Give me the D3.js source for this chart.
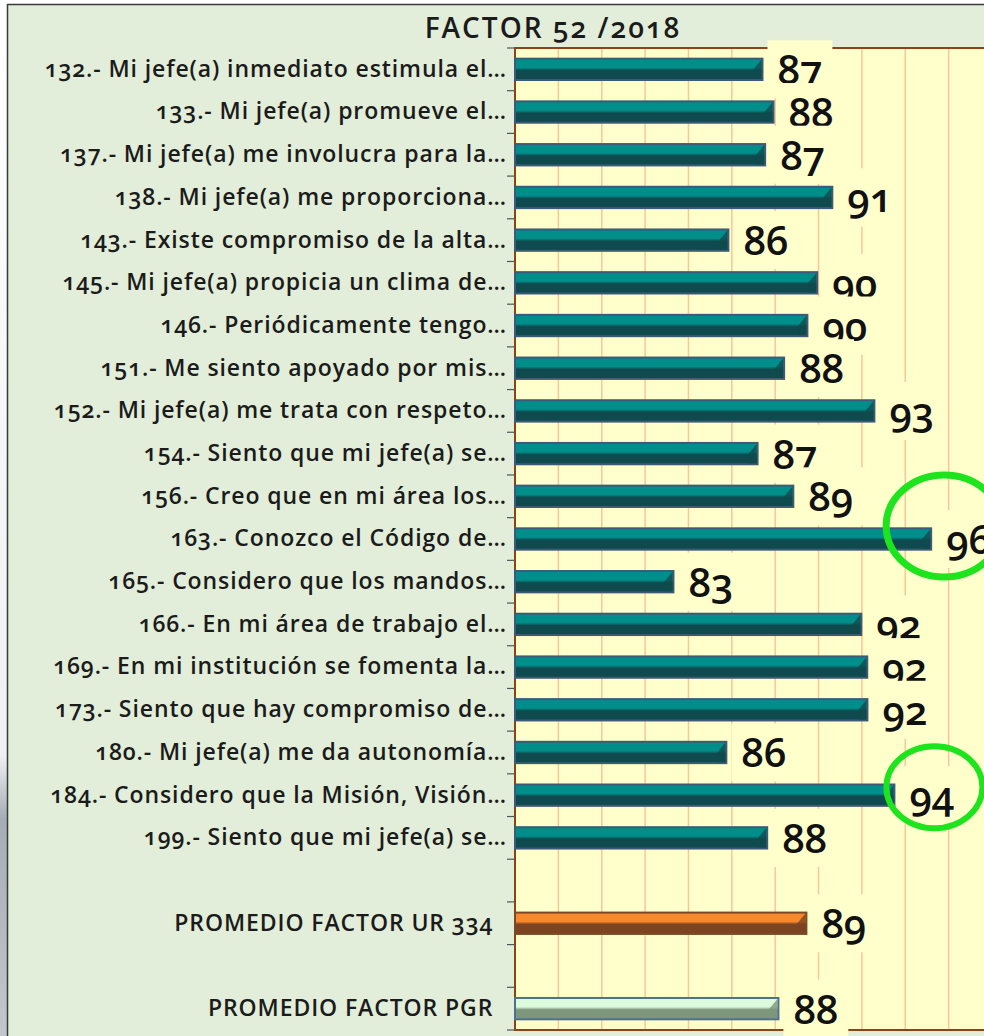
<!DOCTYPE html>
<html>
<head>
<meta charset="utf-8">
<script src="https://cdn.jsdelivr.net/npm/d3@7"></script>
<style>
  body { margin: 0; background: #fff; }
  text { font-family: "Open Sans", "Noto Sans", sans-serif; }
</style>
</head>
<body>
<div id="chart"></div>
<script>
// question labels (blank rows separate the averages)
var categories = [
  "132.- Mi jefe(a) inmediato estimula el…",
  "133.- Mi jefe(a) promueve el…",
  "137.- Mi jefe(a) me involucra para la…",
  "138.- Mi jefe(a) me proporciona…",
  "143.- Existe compromiso de la alta…",
  "145.- Mi jefe(a) propicia un clima de…",
  "146.- Periódicamente tengo…",
  "151.- Me siento apoyado por mis…",
  "152.- Mi jefe(a) me trata con respeto…",
  "154.- Siento que mi jefe(a) se…",
  "156.- Creo que en mi área los…",
  "163.- Conozco el Código de…",
  "165.- Considero que los mandos…",
  "166.- En mi área de trabajo el…",
  "169.- En mi institución se fomenta la…",
  "173.- Siento que hay compromiso de…",
  "180.- Mi jefe(a) me da autonomía…",
  "184.- Considero que la Misión, Visión…",
  "199.- Siento que mi jefe(a) se…",
  "",
  "PROMEDIO FACTOR UR 334  ",
  "",
  "PROMEDIO FACTOR PGR  "
];

// scores (labels show them rounded)
var scores = [87.32, 87.86, 87.45, 90.74, 85.65, 90.0, 89.52, 88.38, 92.8, 87.08,
  88.83, 95.58, 82.96, 92.16, 92.45, 92.46, 85.55, 93.78, 87.55,
  null, 89.47, null, 88.1];

// which series each row belongs to
var kinds = ["q","q","q","q","q","q","q","q","q","q","q","q","q","q","q","q","q","q","q",
  null, "ur", null, "pgr"];

// rows circled in green
var highlighted = [11, 17];

var title = "FACTOR 52 /2018";

var W = 984, H = 1036;
var plot = {left: 515, right: 992, top: 48, bottom: 1030};

var svg = d3.select("#chart").append("svg")
  .attr("width", W)
  .attr("height", H);

var defs = svg.append("defs");

var palette = {
  q:   {light: "#008e8b", dark: "#0f4b4e", edge: "#3d5b78"},
  ur:  {light: "#f7892c", dark: "#7d4421", edge: "#7a4a26"},
  pgr: {light: "#dcfadc", dark: "#7c977c", edge: "#51708e"}
};

Object.keys(palette).forEach(function(k) {
  var p = palette[k];
  var g = defs.append("linearGradient").attr("id", "grad-" + k)
    .attr("x1", 0).attr("y1", 0).attr("x2", 0).attr("y2", 1);
  g.append("stop").attr("offset", "0%").attr("stop-color", p.light);
  g.append("stop").attr("offset", "42%").attr("stop-color", p.light);
  g.append("stop").attr("offset", "55%").attr("stop-color", p.dark);
  g.append("stop").attr("offset", "100%").attr("stop-color", p.dark);
});

var side = defs.append("linearGradient").attr("id", "side")
  .attr("x1", 0).attr("y1", 0).attr("x2", 0).attr("y2", 1);
side.append("stop").attr("offset", "0%").attr("stop-color", "#ffffff");
side.append("stop").attr("offset", "73%").attr("stop-color", "#eef0f2");
side.append("stop").attr("offset", "79%").attr("stop-color", "#a7adb6");
side.append("stop").attr("offset", "100%").attr("stop-color", "#c3c7cd");

// page edge and chart area
svg.append("rect").attr("x", 0).attr("y", 0).attr("width", 7).attr("height", H)
  .attr("fill", "url(#side)");
svg.append("rect").attr("x", 7).attr("y", 4).attr("width", W - 7).attr("height", H - 4)
  .attr("fill", "#e2eed9");
svg.append("path").attr("d", "M7.5," + H + "V4.5H" + W)
  .attr("fill", "none").attr("stroke", "#3a3a3a").attr("stroke-width", 1.5);

// scales
var x = d3.scaleLinear()
  .domain([75.2, 98.56])
  .range([plot.left, plot.right]);

var y = d3.scaleBand()
  .domain(d3.range(categories.length))
  .range([plot.top, plot.bottom])
  .paddingInner(0.5)
  .paddingOuter(0.25);

var grid = d3.scaleLinear().domain([0, 11]).range(x.range());

// plot area
svg.append("rect")
  .attr("x", plot.left).attr("y", plot.top)
  .attr("width", plot.right - plot.left).attr("height", plot.bottom - plot.top)
  .attr("fill", "#ffffcc");

svg.append("g").selectAll("line")
  .data(d3.range(1, 11))
  .enter().append("line")
    .attr("x1", function(d) { return grid(d); })
    .attr("x2", function(d) { return grid(d); })
    .attr("y1", plot.top).attr("y2", plot.bottom)
    .attr("stroke", "#f7c79c").attr("stroke-width", 1.5);

svg.append("path")
  .attr("d", "M" + W + "," + plot.top + "H" + plot.left + "V" + plot.bottom + "H" + W)
  .attr("fill", "none").attr("stroke", "#8e4313").attr("stroke-width", 2);

// category axis
var yAxis = d3.axisLeft(y)
  .tickSize(0)
  .tickPadding(8)
  .tickFormat(function(i) { return categories[i]; });

var ax = svg.append("g")
  .attr("transform", "translate(" + plot.left + ",0)")
  .call(yAxis);
ax.select(".domain").remove();
ax.selectAll("text")
  .attr("font-size", 23)
  .attr("font-weight", 600)
  .attr("fill", "#1b1b1b")
  .attr("letter-spacing", 0.9)
  .style("white-space", "pre")
  .style("font-variant-numeric", "oldstyle-nums")
  .style("font-family", "'Open Sans', sans-serif");

// small ticks between categories
svg.append("g").selectAll("line")
  .data(d3.range(categories.length + 1))
  .enter().append("line")
    .attr("x1", plot.left - 8).attr("x2", plot.left)
    .attr("y1", function(i) { return y.range()[0] + y.step() * i; })
    .attr("y2", function(i) { return y.range()[0] + y.step() * i; })
    .attr("stroke", "#555").attr("stroke-width", 1.2);

// bars
var rows = d3.range(categories.length).filter(function(i) { return scores[i] != null; });
var bh = y.bandwidth();

var bars = svg.append("g").selectAll("g")
  .data(rows)
  .enter().append("g");

bars.append("rect")
  .attr("x", x.range()[0])
  .attr("y", function(i) { return y(i); })
  .attr("width", function(i) { return x(scores[i]) - x.range()[0]; })
  .attr("height", bh)
  .attr("fill", function(i) { return "url(#grad-" + kinds[i] + ")"; })
  .attr("stroke", function(i) { return palette[kinds[i]].edge; })
  .attr("stroke-width", 2);

// bevel at the end of each bar
bars.append("path")
  .attr("d", function(i) {
    var x1 = x(scores[i]) - 1, y0 = y(i) + 1, y1 = y(i) + bh - 1;
    return "M" + (x1 - 8) + "," + (y0 + bh * 0.45) + "L" + x1 + "," + y0 +
      "V" + y1 + "H" + (x1 - 8) + "Z";
  })
  .attr("fill", function(i) { return palette[kinds[i]].dark; })
  .attr("opacity", 0.8);

// value labels with their own background boxes
var fmt = d3.format(".0f");
var labels = svg.append("g").selectAll("g")
  .data(rows)
  .enter().append("g");

labels.append("rect").attr("fill", "#ffffcc");
labels.append("text")
  .attr("x", function(i) { return x(scores[i]) + 15; })
  .attr("y", function(i) { return y(i) + bh / 2 + 15; })
  .attr("font-size", 40)
  .attr("font-weight", 600)
  .attr("fill", "#111")
  .style("font-variant-numeric", "oldstyle-nums")
  .text(function(i) { return fmt(scores[i]); });

labels.each(function(i) {
  var g = d3.select(this);
  var w = g.select("text").node().getComputedTextLength();
  g.select("rect")
    .attr("x", x(scores[i]) + 5)
    .attr("y", y(i) + bh / 2 - 29)
    .attr("width", w + 20)
    .attr("height", 58);
});

// green circles
var rings = [{rx: 58, ry: 51, dx: 13, dy: -13, sw: 7}, {rx: 48, ry: 41, dx: 40, dy: -8, sw: 6}];
svg.append("g").selectAll("ellipse")
  .data(highlighted)
  .enter().append("ellipse")
    .attr("cx", function(i, k) { return x(scores[i]) + rings[k].dx; })
    .attr("cy", function(i, k) { return y(i) + bh / 2 + rings[k].dy; })
    .attr("rx", function(i, k) { return rings[k].rx; })
    .attr("ry", function(i, k) { return rings[k].ry; })
    .attr("fill", "none")
    .attr("stroke", "#1ee41e")
    .attr("stroke-width", function(i, k) { return rings[k].sw; });

// title
svg.append("text")
  .attr("x", 553)
  .attr("y", 38)
  .attr("text-anchor", "middle")
  .attr("font-size", 28)
  .attr("font-weight", 600)
  .attr("letter-spacing", 2)
  .attr("fill", "#1b1b1b")
  .style("font-variant-numeric", "oldstyle-nums")
  .text(title);
</script>
</body>
</html>
